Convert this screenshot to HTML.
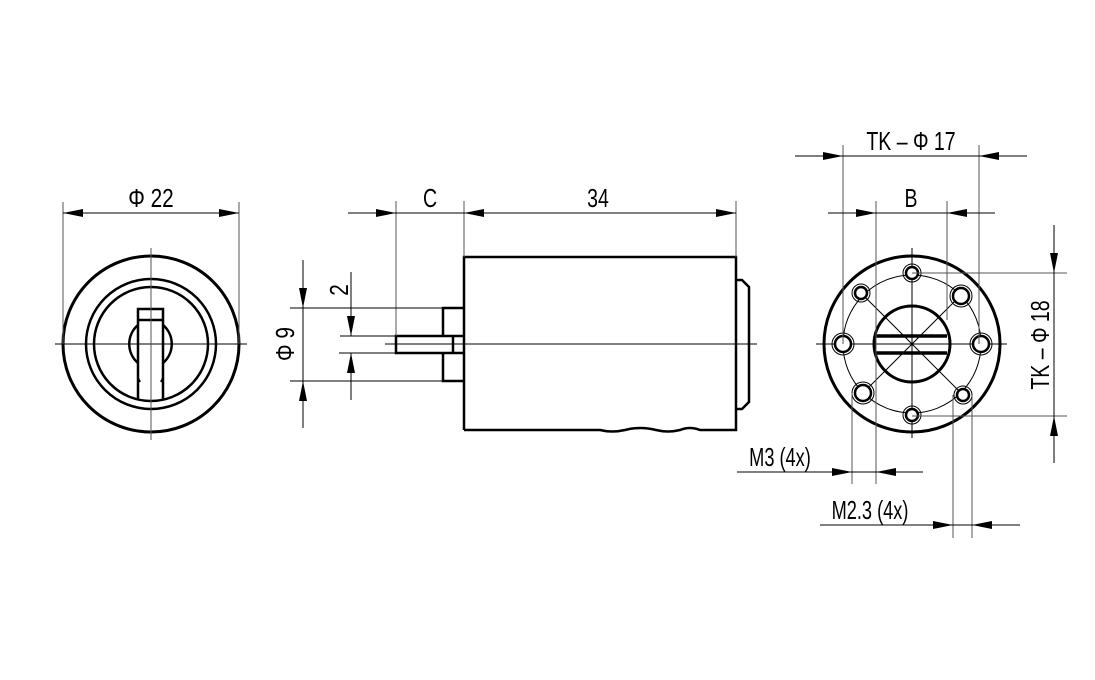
<!DOCTYPE html>
<html><head><meta charset="utf-8"><style>
html,body{margin:0;padding:0;background:#fff;}
svg{display:block;}
text{font-family:"Liberation Sans",sans-serif;font-size:26px;fill:#000;}
</style></head><body>
<svg width="1095" height="680" viewBox="0 0 1095 680" xmlns="http://www.w3.org/2000/svg">
<defs>
<marker id="a" viewBox="0 0 20 8" refX="20" refY="4" markerWidth="20" markerHeight="8" markerUnits="userSpaceOnUse" orient="auto"><path d="M0,0 L20,4 L0,8 Z" fill="#000"/></marker>
</defs>
<g stroke="#000" fill="none">
<!-- LEFT VIEW -->
<circle cx="151" cy="344" r="88" stroke-width="3"/>
<circle cx="151" cy="344" r="65" stroke-width="2.5"/>
<circle cx="151" cy="344" r="57" stroke-width="2.5"/>
<path d="M138,325 A25,25 0 0 0 138,363 M163,325 A25,25 0 0 1 163,363" stroke-width="2.5"/>
<path d="M138,399 L138,309 L163,309 L163,399 M138,320 L163,320" stroke-width="2.5"/>
<path d="M138,378 l2,4 M163,378 l-2,4" stroke-width="2"/>
<line x1="55" y1="344" x2="247" y2="344" stroke-width="1"/>
<line x1="151" y1="248" x2="151" y2="440" stroke-width="1" stroke="#555"/>
<line x1="63" y1="202" x2="63" y2="344" stroke-width="1" stroke="#555"/>
<line x1="239" y1="202" x2="239" y2="344" stroke-width="1" stroke="#555"/>
<line x1="101" y1="213" x2="63" y2="213" stroke-width="1" marker-end="url(#a)"/>
<line x1="101" y1="213" x2="239" y2="213" stroke-width="1" marker-end="url(#a)"/>
<!-- MIDDLE VIEW -->
<path d="M464,430 L464,257 L736,257 L736,430 L700,430 Q690,426 680,430 Q668,433 656,430 Q640,426 625,430 Q612,433 600,430 L464,430" stroke-width="2.5"/>
<path d="M736,280 L742,280 L749,287 L749,402 L742,409 L736,409" stroke-width="2.5"/>
<path d="M464,308 L443,308 L443,336 M443,353 L443,381 L464,381" stroke-width="2.5"/>
<path d="M464,336 L396,336 L396,353 L464,353 M453,336 L453,353 M443,336 L464,336 M443,353 L464,353" stroke-width="2.5"/>
<line x1="385" y1="344" x2="757" y2="344" stroke-width="1"/>
<line x1="396" y1="201" x2="396" y2="336" stroke-width="1" stroke="#555"/>
<line x1="464" y1="201" x2="464" y2="257" stroke-width="1" stroke="#555"/>
<line x1="736" y1="201" x2="736" y2="257" stroke-width="1" stroke="#555"/>
<line x1="348" y1="213" x2="396" y2="213" stroke-width="1" marker-end="url(#a)"/>
<line x1="396" y1="213" x2="464" y2="213" stroke-width="1"/>
<line x1="600" y1="213" x2="464" y2="213" stroke-width="1" marker-end="url(#a)"/>
<line x1="600" y1="213" x2="736" y2="213" stroke-width="1" marker-end="url(#a)"/>
<!-- phi9 -->
<line x1="290" y1="308" x2="443" y2="308" stroke-width="1"/>
<line x1="290" y1="381" x2="443" y2="381" stroke-width="1"/>
<line x1="303" y1="260" x2="303" y2="308" stroke-width="1" marker-end="url(#a)"/>
<line x1="303" y1="428" x2="303" y2="381" stroke-width="1" marker-end="url(#a)"/>
<line x1="303" y1="308" x2="303" y2="381" stroke-width="1"/>
<!-- 2 -->
<line x1="340" y1="336" x2="396" y2="336" stroke-width="1"/>
<line x1="339" y1="353" x2="396" y2="353" stroke-width="1"/>
<line x1="351" y1="272" x2="351" y2="336" stroke-width="1" marker-end="url(#a)"/>
<line x1="351" y1="400" x2="351" y2="353" stroke-width="1" marker-end="url(#a)"/>
<!-- RIGHT VIEW -->
<circle cx="912" cy="344" r="88" stroke-width="3"/>
<circle cx="912" cy="344" r="69" stroke-width="1"/>
<circle cx="912" cy="344" r="38" stroke-width="3"/>
<line x1="876" y1="336" x2="947" y2="336" stroke-width="3.5"/>
<line x1="876" y1="353" x2="947" y2="353" stroke-width="3.5"/>
<line x1="861" y1="293" x2="963" y2="395" stroke-width="1"/>
<line x1="963" y1="293" x2="861" y2="395" stroke-width="1"/>
<line x1="816" y1="344" x2="1007" y2="344" stroke-width="1"/>
<line x1="912" y1="248" x2="912" y2="438" stroke-width="1"/>
<line x1="878" y1="344" x2="946" y2="344" stroke-width="1" stroke-dasharray="8,4"/>
<g fill="#fff" stroke-width="2.5">
<circle cx="912" cy="273" r="6"/><circle cx="912" cy="415" r="6"/>
<circle cx="843" cy="344" r="8"/><circle cx="981" cy="344" r="8"/>
<circle cx="861" cy="293" r="6"/><circle cx="963" cy="395" r="6"/>
<circle cx="961" cy="296" r="8"/><circle cx="863" cy="393" r="8"/>
</g>
<g stroke-width="1">
<circle cx="912" cy="273" r="9"/><circle cx="912" cy="415" r="9"/>
<circle cx="843" cy="344" r="11"/><circle cx="981" cy="344" r="11"/>
<circle cx="861" cy="293" r="9"/><circle cx="963" cy="395" r="9"/>
<circle cx="961" cy="296" r="11"/><circle cx="863" cy="393" r="11"/>
</g>
<!-- TK17 -->
<line x1="843" y1="145" x2="843" y2="344" stroke-width="1" stroke="#555"/>
<line x1="979" y1="145" x2="979" y2="344" stroke-width="1" stroke="#555"/>
<line x1="795" y1="156" x2="843" y2="156" stroke-width="1" marker-end="url(#a)"/>
<line x1="843" y1="156" x2="979" y2="156" stroke-width="1"/>
<line x1="1027" y1="156" x2="979" y2="156" stroke-width="1" marker-end="url(#a)"/>
<!-- B -->
<line x1="876" y1="201" x2="876" y2="484" stroke-width="1" stroke="#555"/>
<line x1="947" y1="201" x2="947" y2="320" stroke-width="1" stroke="#555"/>
<line x1="828" y1="213" x2="876" y2="213" stroke-width="1" marker-end="url(#a)"/>
<line x1="876" y1="213" x2="947" y2="213" stroke-width="1"/>
<line x1="995" y1="213" x2="947" y2="213" stroke-width="1" marker-end="url(#a)"/>
<!-- M3 -->
<line x1="852" y1="393" x2="852" y2="484" stroke-width="1" stroke="#555"/>
<line x1="737" y1="472" x2="852" y2="472" stroke-width="1" marker-end="url(#a)"/>
<line x1="852" y1="472" x2="923" y2="472" stroke-width="1"/>
<line x1="923" y1="472" x2="876" y2="472" stroke-width="1" marker-end="url(#a)"/>
<!-- M2.3 -->
<line x1="953" y1="395" x2="953" y2="538" stroke-width="1" stroke="#555"/>
<line x1="972" y1="395" x2="972" y2="538" stroke-width="1" stroke="#555"/>
<line x1="820" y1="525" x2="953" y2="525" stroke-width="1" marker-end="url(#a)"/>
<line x1="1020" y1="525" x2="972" y2="525" stroke-width="1" marker-end="url(#a)"/>
<line x1="953" y1="525" x2="972" y2="525" stroke-width="1"/>
<!-- TK18 -->
<line x1="912" y1="273" x2="1067" y2="273" stroke-width="1" stroke="#555"/>
<line x1="912" y1="416" x2="1067" y2="416" stroke-width="1" stroke="#555"/>
<line x1="1054" y1="225" x2="1054" y2="273" stroke-width="1" marker-end="url(#a)"/>
<line x1="1054" y1="463" x2="1054" y2="416" stroke-width="1" marker-end="url(#a)"/>
<line x1="1054" y1="273" x2="1054" y2="416" stroke-width="1"/>
</g>
<g>
<text x="151" y="207" text-anchor="middle" transform="translate(151,0) scale(0.8,1) translate(-151,0)">Φ 22</text>
<text x="430" y="207" text-anchor="middle" transform="translate(430,0) scale(0.75,1) translate(-430,0)">C</text>
<text x="598" y="207" text-anchor="middle" transform="translate(598,0) scale(0.75,1) translate(-598,0)">34</text>
<text transform="translate(294,344) rotate(-90) scale(0.8,1)" text-anchor="middle">Φ 9</text>
<text transform="translate(348,290) rotate(-90) scale(0.8,1)" text-anchor="middle">2</text>
<text x="911" y="150" text-anchor="middle" transform="translate(911,0) scale(0.75,1) translate(-911,0)">TK – Φ 17</text>
<text x="911" y="207" text-anchor="middle" transform="translate(911,0) scale(0.75,1) translate(-911,0)">B</text>
<text x="780" y="466" text-anchor="middle" transform="translate(780,0) scale(0.7,1) translate(-780,0)">M3 (4x)</text>
<text x="870" y="519" text-anchor="middle" transform="translate(870,0) scale(0.7,1) translate(-870,0)">M2.3 (4x)</text>
<text transform="translate(1049,345) rotate(-90) scale(0.75,1)" text-anchor="middle">TK – Φ 18</text>
</g>
</svg>
</body></html>
